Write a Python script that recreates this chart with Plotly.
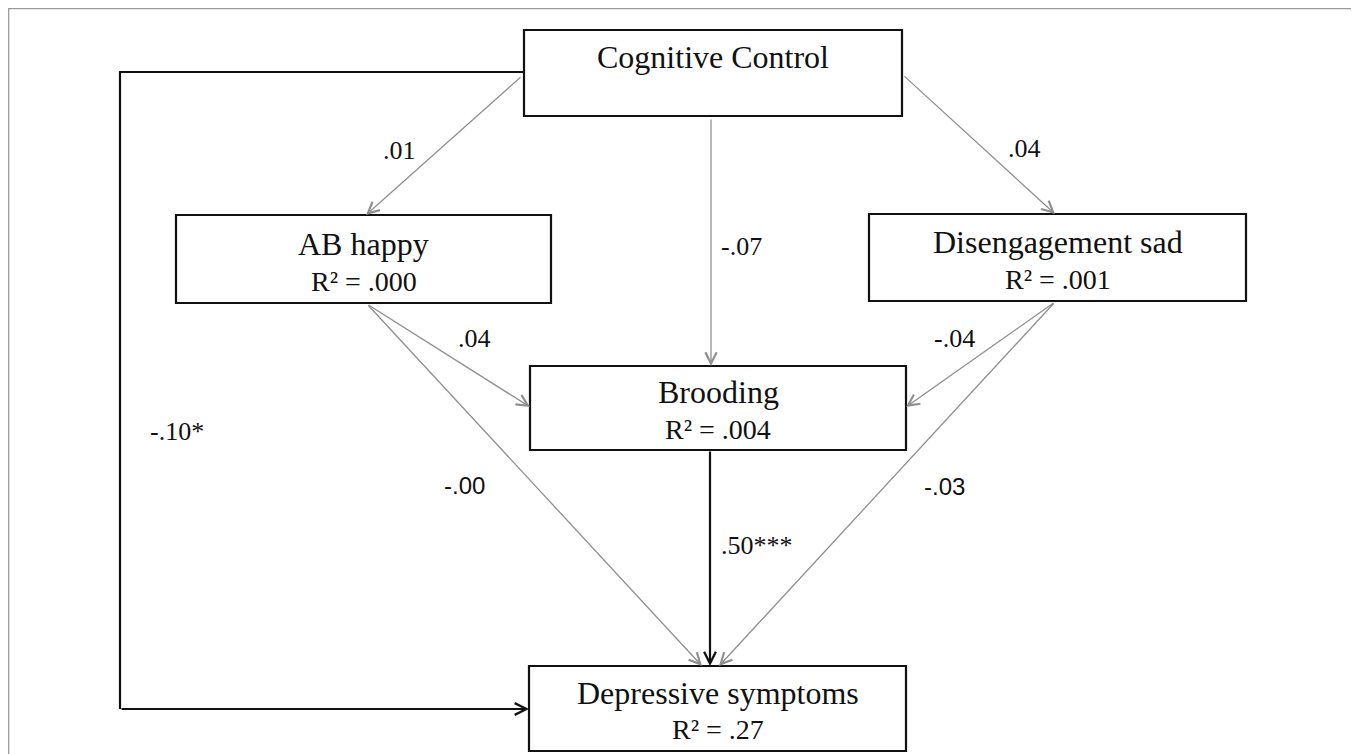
import plotly.graph_objects as go

# ---------------- data ----------------
node_names = ["Cognitive Control", "AB happy", "Disengagement sad", "Brooding", "Depressive symptoms"]
node_r2 = ["", ".000", ".001", ".004", ".27"]

edge_from = ["Cognitive Control", "Cognitive Control", "Cognitive Control",
             "AB happy", "AB happy", "Disengagement sad", "Disengagement sad",
             "Brooding", "Cognitive Control"]
edge_to = ["AB happy", "Disengagement sad", "Brooding",
           "Brooding", "Depressive symptoms", "Brooding", "Depressive symptoms",
           "Depressive symptoms", "Depressive symptoms"]
edge_coef = [".01", ".04", "-.07", ".04", "-.00", "-.04", "-.03", ".50***", "-.10*"]

# ---------------- layout (pixel geometry) ----------------
W, H = 1359, 754
OFF = 8  # default page body margin
boxes = {
    "Cognitive Control": (524, 902, 30, 116),
    "AB happy": (176, 551, 215, 303),
    "Disengagement sad": (869, 1246, 214, 301),
    "Brooding": (530, 906, 366, 450),
    "Depressive symptoms": (529, 906, 666, 751),
}
name_y = {"Cognitive Control": 57, "AB happy": 244, "Disengagement sad": 242,
          "Brooding": 392, "Depressive symptoms": 693}
r2_y = {"AB happy": 281, "Disengagement sad": 279, "Brooding": 429,
        "Depressive symptoms": 729}

# path geometry per edge (start .. end), list of points
paths = [
    [(522, 76), (366, 215)],
    [(903, 75), (1055, 214)],
    [(711, 118), (711, 366)],
    [(367, 304), (530, 407)],
    [(367, 304), (702, 666)],
    [(1055, 302), (906, 407)],
    [(1055, 302), (719, 666)],
    [(710, 450), (710, 666)],
    [(524, 72), (120, 72), (120, 709), (529, 709)],
]
label_pos = [(399, 150), (1024, 148), (741, 246), (474, 338), (464, 485),
             (954, 338), (944, 486), (757, 545), (177, 431)]
sans_labels = {"-.00", "-.03"}

SERIF = "Liberation Serif, Times New Roman, serif"
SANS = "Liberation Sans, Arial, sans-serif"

fig = go.Figure()
fig.add_trace(go.Scatter(x=[OFF, W], y=[OFF, H], mode="markers",
                         marker=dict(opacity=0), hoverinfo="skip", showlegend=False))

shapes = []
annotations = []

# outer frame (page margin prevents drawing left/top of 8 px)
shapes.append(dict(type="rect", xref="x", yref="y", x0=OFF + 0.7, x1=1354, y0=OFF + 0.7, y1=H + 5,
                   line=dict(color="#9a9a9a", width=1.3), fillcolor="rgba(0,0,0,0)"))

# boxes
for name in node_names:
    x0, x1, y0, y1 = boxes[name]
    shapes.append(dict(type="rect", xref="x", yref="y", x0=x0, x1=x1, y0=y0, y1=y1,
                       line=dict(color="#111111", width=2.2), fillcolor="white", layer="below"))
    annotations.append(dict(x=(x0 + x1) / 2, y=name_y[name], xref="x", yref="y", text=name,
                            showarrow=False, xanchor="center", yanchor="middle",
                            font=dict(family=SERIF, size=32, color="#111111")))
for name, r2 in zip(node_names, node_r2):
    if r2:
        x0, x1, y0, y1 = boxes[name]
        annotations.append(dict(x=(x0 + x1) / 2, y=r2_y[name], xref="x", yref="y",
                                text="R² = " + r2, showarrow=False,
                                xanchor="center", yanchor="middle",
                                font=dict(family=SERIF, size=28, color="#111111")))

# edges
for i, coef in enumerate(edge_coef):
    sig = "*" in coef
    color = "#111111" if sig else "#8f8f8f"
    width = 2.2 if sig else 1.3
    pts = paths[i]
    if len(pts) > 2:
        xs = [p[0] for p in pts[:-1]]
        ys = [p[1] for p in pts[:-1]]
        fig.add_trace(go.Scatter(x=xs, y=ys, mode="lines",
                                 line=dict(color=color, width=width),
                                 hoverinfo="skip", showlegend=False))
    (sx, sy), (ex, ey) = pts[-2], pts[-1]
    annotations.append(dict(x=ex, y=ey, ax=sx, ay=sy, xref="x", yref="y",
                            axref="x", ayref="y", text="", showarrow=True,
                            arrowhead=5, arrowsize=1.7 if not sig else 1.05,
                            arrowwidth=width, arrowcolor=color, standoff=0))
    lx, ly = label_pos[i]
    fam = SANS if coef in sans_labels else SERIF
    fsize = 24 if coef in sans_labels else 26
    annotations.append(dict(x=lx, y=ly, xref="x", yref="y", text=coef,
                            showarrow=False, xanchor="center", yanchor="middle",
                            font=dict(family=fam, size=fsize, color="#111111")))

fig.update_layout(
    width=W - OFF, height=H - OFF,
    margin=dict(l=0, r=0, t=0, b=0),
    paper_bgcolor="white", plot_bgcolor="white",
    xaxis=dict(range=[OFF, W], visible=False, fixedrange=True),
    yaxis=dict(range=[H, OFF], visible=False, fixedrange=True),
    shapes=shapes, annotations=annotations,
    showlegend=False,
)

fig.write_html("out.html")
